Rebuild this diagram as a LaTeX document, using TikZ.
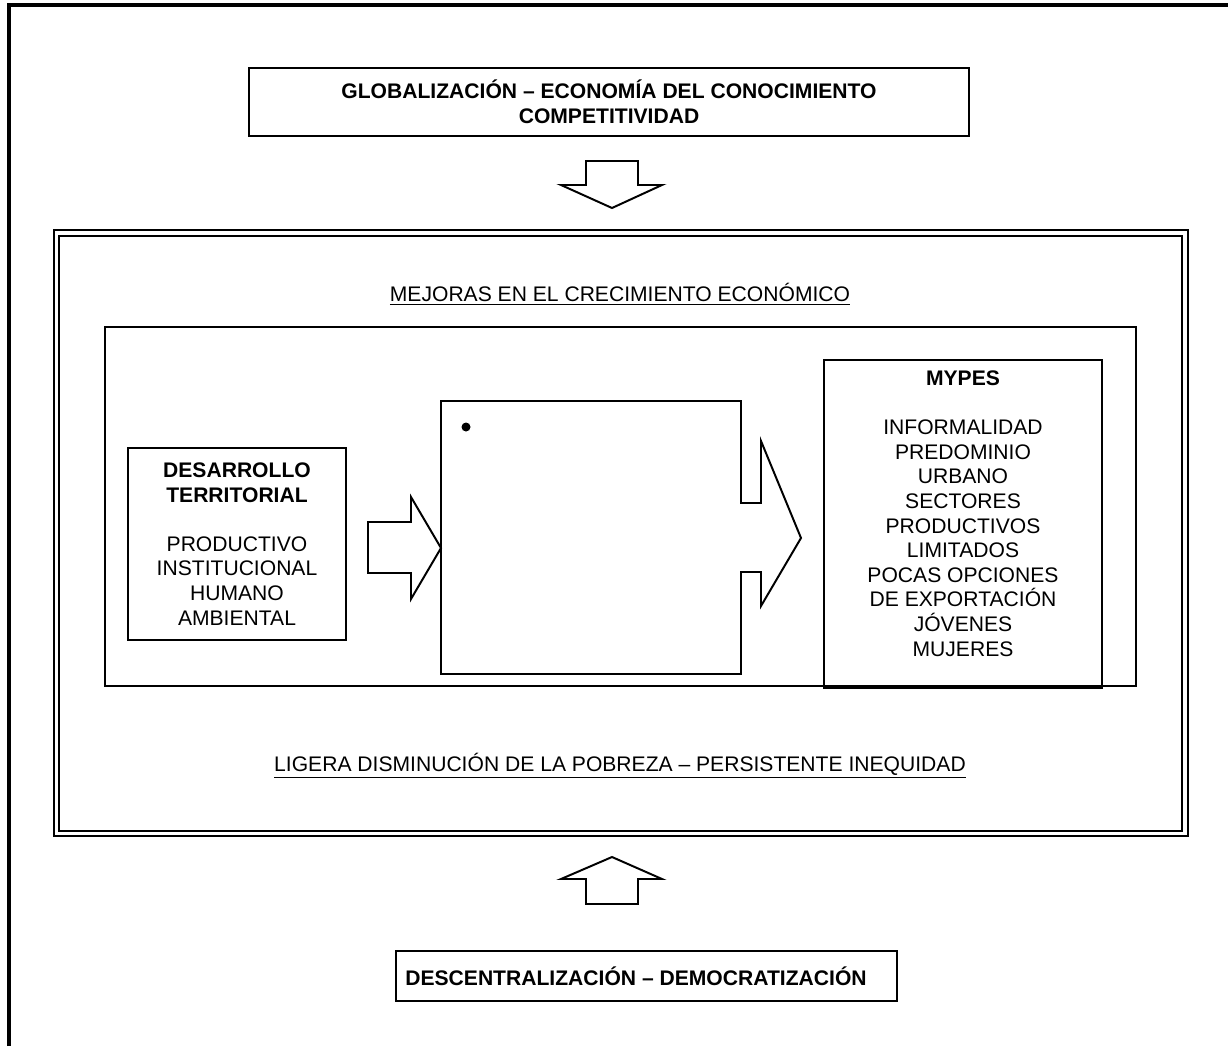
\documentclass[tikz,border=0pt]{standalone}
\usepackage{fontspec}
\setmainfont{Liberation Sans}
\usetikzlibrary{positioning}

\newcommand{\px}{0.025cm}

\tikzset{
  every node/.style={font=\fontsize{15}{17.5}\selectfont,inner sep=0pt,align=center},
  box/.style={draw,line width=1.4pt},
  blockarrow/.style={draw,line width=1.4pt,line join=miter},
  frameline/.style={line width=2.8pt},
  doubleframe/.style={draw,line width=1.4pt,double,double distance=2.5pt}
}

\begin{document}
\begin{tikzpicture}[x=\px,y=-\px]
  \useasboundingbox (0,0) rectangle (1228,1046);
  % marco exterior
  \draw[frameline] (9,1046) -- (9,5) -- (1228,5);

  % contexto global
  \node[box,minimum width=720*\px,minimum height=68*\px] (glob) at (609,102)
    {\textbf{GLOBALIZACIÓN – ECONOMÍA DEL CONOCIMIENTO}\\\textbf{COMPETITIVIDAD}};
  \draw[blockarrow] (586,161) -- (638,161) -- (638,185) -- (662,185) -- (612,208)
    -- (561,185) -- (586,185) -- cycle;

  % marco doble
  \draw[doubleframe] (56.5,233) rectangle (1185,833.5);
  \node (mejoras) at (620,294) {\underline{MEJORAS EN EL CRECIMIENTO ECONÓMICO}};
  \draw[box] (105,327) rectangle (1136,686);

  % desarrollo territorial
  \node[box,minimum width=218*\px,minimum height=192*\px] (desarrollo) at (237,544)
    {\textbf{DESARROLLO}\\\textbf{TERRITORIAL}\\[17.5pt]PRODUCTIVO\\INSTITUCIONAL\\HUMANO\\AMBIENTAL};
  \draw[blockarrow] (368,522) -- (411,522) -- (411,497) -- (441,548) -- (411,599)
    -- (411,573) -- (368,573) -- cycle;

  % caja central con flecha
  \draw[blockarrow] (441,401) -- (741,401) -- (741,503) -- (761,503) -- (761,441)
    -- (801,538) -- (761,606) -- (761,572) -- (741,572) -- (741,674) -- (441,674) -- cycle;
  \node[circle,fill,minimum size=9*\px] (punto) at (466,427) {};

  % mypes
  \node[box,minimum width=278*\px,minimum height=328*\px] (mypes) at (963,524) {};
  \node (mypestxt) at (963,513.5)
    {\textbf{MYPES}\\[17.5pt]INFORMALIDAD\\PREDOMINIO\\URBANO\\SECTORES\\PRODUCTIVOS\\LIMITADOS\\POCAS OPCIONES\\DE EXPORTACIÓN\\JÓVENES\\MUJERES};

  \node (ligera) at (620,766) {\underline{LIGERA DISMINUCIÓN DE LA POBREZA – PERSISTENTE INEQUIDAD}};

  % descentralizacion
  \draw[blockarrow] (612,857) -- (662,879) -- (638,879) -- (638,904) -- (586,904)
    -- (586,879) -- (561,879) -- cycle;
  \node[box,minimum width=501*\px,minimum height=50*\px] (desc) at (646.5,976) {};
  \node (desctxt) at (636,976) {\textbf{DESCENTRALIZACIÓN – DEMOCRATIZACIÓN}};
\end{tikzpicture}
\end{document}
